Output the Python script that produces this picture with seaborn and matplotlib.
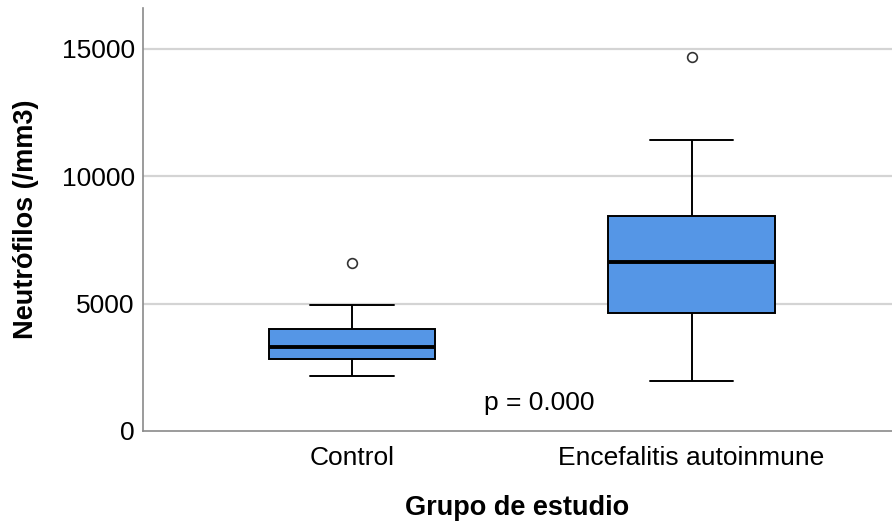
import matplotlib
matplotlib.use("Agg")
import matplotlib.pyplot as plt
import seaborn as sns
import pandas as pd

groups = ["Control", "Encefalitis autoinmune"]
control_vals = [2171, 2500, 2827, 3050, 3287, 3600, 4005, 4948, 6609]
encef_vals = [1976, 3500, 4621, 5800, 6624, 7500, 8454, 11426, 14674]
y_ticks = [0, 5000, 10000, 15000]
p_text = "p = 0.000"

df = pd.DataFrame({
    "Grupo de estudio": [groups[0]] * len(control_vals) + [groups[1]] * len(encef_vals),
    "Neutrófilos (/mm3)": control_vals + encef_vals,
})

sns.set_theme(style="white")
plt.rcParams["font.family"] = ["Liberation Sans", "DejaVu Sans"]

fig = plt.figure(figsize=(8.92, 5.29), dpi=100)
ax = fig.add_axes([0.1603, 0.1853, 0.8397, 0.7997])

for t in y_ticks[1:]:
    ax.axhline(t, color="#d4d4d4", lw=1.6, zorder=0)

sns.boxplot(
    data=df, x="Grupo de estudio", y="Neutrófilos (/mm3)", order=groups,
    color="#5596e6", saturation=1, width=0.49, linecolor="black", linewidth=1.4,
    fliersize=7,
    medianprops=dict(color="black", linewidth=2.8),
    flierprops=dict(marker="o", markerfacecolor="white", markeredgecolor="#333333", markeredgewidth=1.2),
    capwidths=0.245,
    ax=ax, zorder=2,
)

ax.set_xlim(-0.615, 1.59)
ax.set_ylim(0, 16600)
ax.set_yticks(y_ticks)
ax.set_yticklabels([str(t) for t in y_ticks])

for s in ["top", "right"]:
    ax.spines[s].set_visible(False)
for s in ["left", "bottom"]:
    ax.spines[s].set_color("#8a8a8a")
    ax.spines[s].set_linewidth(1.2)

ax.tick_params(axis="y", length=0, pad=6, labelsize=19, colors="black")
ax.tick_params(axis="x", length=0, pad=11, labelsize=19, colors="black")
ax.set_xlabel("Grupo de estudio", fontsize=19.5, fontweight="bold", labelpad=18, color="black")
ax.set_ylabel("Neutrófilos (/mm3)", fontsize=19.5, fontweight="bold", labelpad=16, color="black")

ax.text(0.553, 1100, p_text, fontsize=19, ha="center", va="center", color="black")

fig.savefig("out.png", dpi=100)
